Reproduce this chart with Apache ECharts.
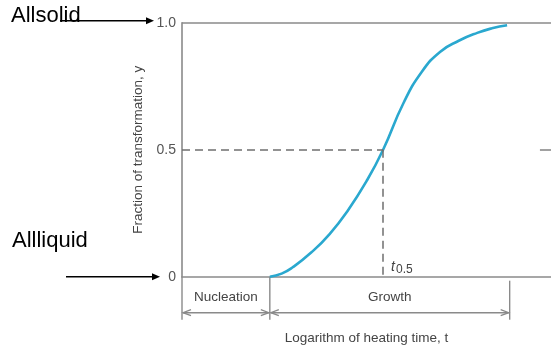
<!DOCTYPE html>
<html>
<head>
<meta charset="utf-8">
<script src="https://cdn.jsdelivr.net/npm/echarts@6/dist/echarts.min.js"></script>
<style>
  html, body { margin: 0; padding: 0; background: #ffffff; overflow: hidden; }
  #chart { width: 551px; height: 350px; }
</style>
</head>
<body>
<div id="chart"></div>
<script>
// Sigmoidal transformation curve: fraction transformed vs. log of heating time
const logTime  = [2.38, 2.70, 3.00, 3.50, 4.00, 4.50, 5.00, 5.45, 6.00, 6.50, 7.00, 7.50, 8.00, 8.40, 8.81];
const fraction = [0.000, 0.012, 0.037, 0.095, 0.168, 0.262, 0.376, 0.500, 0.683, 0.807, 0.886, 0.929, 0.960, 0.978, 0.990];

const yTicks      = [0, 0.5, 1.0];
const yTickLabels = ['0', '0.5', '1.0'];

const timeRange   = [0, 10];
const halfTime    = 5.45;              // t0.5, where y = 0.5
const phaseBounds = [0, 2.38, 8.88];   // nucleation start, growth start, growth end
const phaseNames  = ['Nucleation', 'Growth'];

const endLabels = ['Allsolid', 'Allliquid'];

const axisGray = '#8a8a8a';
const textGray = '#444444';
const curveBlue = '#2aa8cf';

const chart = echarts.init(document.getElementById('chart'), null, { renderer: 'canvas' });

chart.setOption({
  animation: false,
  backgroundColor: '#ffffff',
  grid: { left: 182, right: 0, top: 22.7, bottom: 73.3, outerBoundsMode: 'none', containLabel: false },
  xAxis: {
    type: 'value', min: timeRange[0], max: timeRange[1], position: 'bottom',
    name: 'Logarithm of heating time, t',
    nameLocation: 'middle', nameGap: 55,
    nameTextStyle: { color: textGray, fontSize: 13.5, fontFamily: 'Liberation Sans' },
    axisLine: { show: true, lineStyle: { color: axisGray, width: 1.6 } },
    axisTick: { show: false }, axisLabel: { show: false }, splitLine: { show: false }
  },
  yAxis: {
    type: 'value', min: 0, max: 1, interval: 0.5, position: 'left',
    name: 'Fraction of transformation, y',
    nameLocation: 'middle', nameGap: 33,
    nameTextStyle: { color: textGray, fontSize: 13.5, fontFamily: 'Liberation Sans' },
    axisLine: { show: true, lineStyle: { color: axisGray, width: 1.6 } },
    axisTick: { show: false },
    splitLine: { show: false },
    axisLabel: {
      color: '#555555', fontSize: 14, fontFamily: 'Liberation Sans', margin: 6,
      formatter: v => {
        const i = yTicks.findIndex(t => Math.abs(t - v) < 1e-9);
        return i >= 0 ? yTickLabels[i] : '';
      }
    }
  },
  series: [
    {
      type: 'line',
      data: logTime.map((t, i) => [t, fraction[i]]),
      smooth: 0.5,
      symbol: 'none',
      lineStyle: { color: curveBlue, width: 2.6 },
      markLine: {
        silent: true,
        symbol: 'none',
        label: { show: false },
        lineStyle: { color: '#6f6f6f', width: 1.5, type: [8, 5] },
        data: [
          [{ coord: [timeRange[0], 0.5] }, { coord: [halfTime, 0.5] }],
          [{ coord: [halfTime, 0.5] }, { coord: [halfTime, 0] }],
          // frame line across the top at y = 1
          [{ coord: [timeRange[0], 1], lineStyle: { type: 'solid', color: axisGray, width: 1.6 } },
           { coord: [timeRange[1], 1] }],
          // short tick on the right edge at y = 0.5
          [{ coord: [timeRange[1] - 0.3, 0.5], lineStyle: { type: 'solid', color: axisGray, width: 1.6 } },
           { coord: [timeRange[1], 0.5] }]
        ]
      }
    }
  ]
});

// Annotations below the axis and in the left margin, placed from axis values
function drawAnnotations() {
  const px = v => chart.convertToPixel({ xAxisIndex: 0 }, v);
  const py = v => chart.convertToPixel({ yAxisIndex: 0 }, v);
  const yBase = py(0);
  const yTop = py(1);
  const arrowY = yBase + 36;
  const lineStyle = { stroke: axisGray, lineWidth: 1.4 };
  const els = [];

  // bracket ends
  phaseBounds.forEach((b, i) => {
    const x = px(b);
    els.push({
      type: 'line', silent: true,
      shape: { x1: x, y1: yBase + (i === 2 ? 4 : 0), x2: x, y2: yBase + 43 },
      style: lineStyle
    });
  });

  // double arrows and phase names
  for (let i = 0; i < phaseNames.length; i++) {
    const xa = px(phaseBounds[i]) + 1;
    const xb = px(phaseBounds[i + 1]) - 1;
    els.push({ type: 'line', silent: true, shape: { x1: xa, y1: arrowY, x2: xb, y2: arrowY }, style: lineStyle });
    els.push({ type: 'polyline', silent: true, shape: { points: [[xa + 8, arrowY - 3], [xa, arrowY], [xa + 8, arrowY + 3]] }, style: { stroke: axisGray, lineWidth: 1.3, fill: null } });
    els.push({ type: 'polyline', silent: true, shape: { points: [[xb - 8, arrowY - 3], [xb, arrowY], [xb - 8, arrowY + 3]] }, style: { stroke: axisGray, lineWidth: 1.3, fill: null } });
    els.push({
      type: 'text', silent: true,
      x: (xa + xb) / 2, y: yBase + 21,
      style: { text: phaseNames[i], fill: textGray, font: '13.5px "Liberation Sans"', align: 'center', verticalAlign: 'middle' }
    });
  }

  // t0.5 label
  els.push({
    type: 'text', silent: true,
    x: px(halfTime) + 8, y: yBase - 10,
    style: {
      text: '{t|t}{s|0.5}',
      verticalAlign: 'middle',
      rich: {
        t: { font: 'italic 14px "Liberation Sans"', fill: textGray, padding: [0, 1, 0, 0] },
        s: { font: '12px "Liberation Sans"', fill: textGray, padding: [6, 0, 0, 0] }
      }
    }
  });

  // state labels with arrows pointing to y = 1 and y = 0
  const states = [
    { text: endLabels[0], tx: 11, ty: 16, ax1: 60, ax2: 154, ay: yTop - 2 },
    { text: endLabels[1], tx: 12, ty: 241, ax1: 66, ax2: 160, ay: yBase }
  ];
  states.forEach(s => {
    els.push({
      type: 'text', silent: true, x: s.tx, y: s.ty,
      style: { text: s.text, fill: '#000000', font: '22px "Liberation Sans"', align: 'left', verticalAlign: 'middle' }
    });
    els.push({ type: 'line', silent: true, shape: { x1: s.ax1, y1: s.ay, x2: s.ax2 - 6, y2: s.ay }, style: { stroke: '#000000', lineWidth: 1.6 } });
    els.push({ type: 'polygon', silent: true, shape: { points: [[s.ax2 - 8, s.ay - 3.5], [s.ax2, s.ay], [s.ax2 - 8, s.ay + 3.5]] }, style: { fill: '#000000' } });
  });

  chart.setOption({ graphic: { elements: els } });
}

drawAnnotations();
</script>
</body>
</html>
